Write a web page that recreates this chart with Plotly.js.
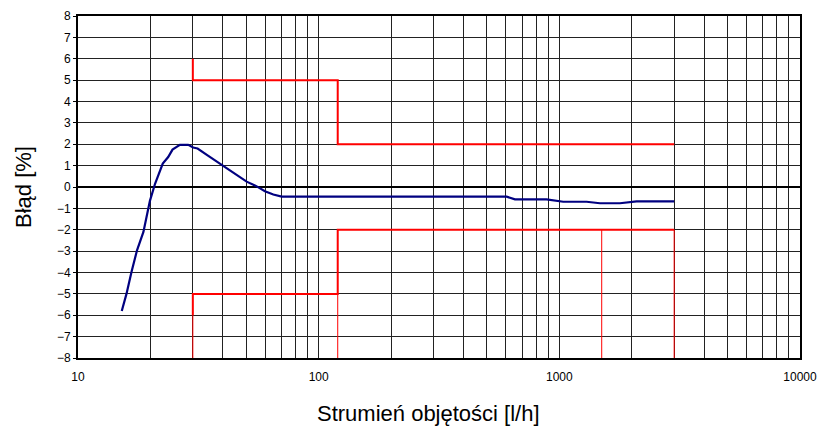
<!DOCTYPE html>
<html>
<head>
<meta charset="utf-8">
<script src="https://cdn.plot.ly/plotly-3.0.1.min.js"></script>
<style>html,body{margin:0;padding:0;background:#fff;}#chart{width:819px;height:432px;}</style>
</head>
<body>
<div id="chart"></div>
<script>
// Measured error curve
const flowX = [15.2, 15.9, 16.7, 17.6, 18.7, 19.6, 19.9, 20.9, 21.6, 22.5, 23.7, 24.7, 26.5, 28.7, 30.1, 31.4, 34.3, 37.7, 40.8, 45.6, 50.2, 55.3, 59.8, 64.8, 70.2, 604, 654, 885, 1038, 1298, 1475, 1786, 2094, 3000];
const errorY = [-5.8, -5.0, -3.95, -2.95, -2.1, -1.1, -0.65, 0.15, 0.55, 1.1, 1.4, 1.75, 1.97, 1.97, 1.85, 1.8, 1.5, 1.18, 0.95, 0.56, 0.25, 0.03, -0.2, -0.35, -0.45, -0.45, -0.58, -0.58, -0.69, -0.69, -0.76, -0.76, -0.67, -0.67];

// Upper limit (thick)
const upperX = [30, 30, 120, 120, 3000];
const upperY = [6, 5, 5, 2, 2];
// Lower limit (thick)
const lowerX = [30, 30, 120, 120, 3000];
const lowerY = [-6, -5, -5, -2, -2];
// Thin drop lines of lower limit
const dropX = [30, 30, null, 120, 120, null, 1500, 1500, null, 3000, 3000];
const dropY = [-6, -8, null, -5, -8, null, -2, -8, null, -2, -8];

// Axis ticks
const xTickVals = [10,20,30,40,50,60,70,80,90,100,200,300,400,500,600,700,800,900,1000,2000,3000,4000,5000,6000,7000,8000,9000,10000];
const xTickText = ['10','','','','','','','','','100','','','','','','','','','1000','','','','','','','','','10000'];
const yTickVals = [-8,-7,-6,-5,-4,-3,-2,-1,0,1,2,3,4,5,6,7,8];

const xTitle = 'Strumień objętości [l/h]';
const yTitle = 'Błąd [%]';

const traces = [
  {x: dropX, y: dropY, mode: 'lines', line: {color: '#ff0000', width: 1}, hoverinfo: 'skip', connectgaps: false},
  {x: upperX, y: upperY, mode: 'lines', line: {color: '#ff0000', width: 2}},
  {x: lowerX, y: lowerY, mode: 'lines', line: {color: '#ff0000', width: 2}},
  {x: flowX, y: errorY, mode: 'lines', line: {color: '#000080', width: 2.2}}
];

const fontFam = 'Arial, "Liberation Sans", sans-serif';
const layout = {
  width: 819, height: 432,
  margin: {l: 78, r: 19, t: 16, b: 74},
  paper_bgcolor: '#ffffff', plot_bgcolor: '#ffffff',
  showlegend: false,
  font: {family: fontFam, color: '#000', size: 12},
  xaxis: {
    type: 'log', range: [1, 4],
    tickmode: 'array', tickvals: xTickVals, ticktext: xTickText,
    showgrid: true, gridcolor: '#222222', gridwidth: 1,
    ticks: '', ticklabelstandoff: 7,
    tickfont: {family: fontFam, size: 12, color: '#000'},
    showline: true, linecolor: '#000', linewidth: 2, mirror: true,
    zeroline: false
  },
  yaxis: {
    range: [-8, 8],
    tickmode: 'array', tickvals: yTickVals,
    showgrid: true, gridcolor: '#222222', gridwidth: 1,
    ticks: 'outside', ticklen: 3, tickcolor: '#000', tickwidth: 1,
    tickfont: {family: fontFam, size: 12, color: '#000'},
    showline: true, linecolor: '#000', linewidth: 2, mirror: true,
    zeroline: true, zerolinecolor: '#000', zerolinewidth: 2
  },
  annotations: [
    {text: xTitle, xref: 'paper', yref: 'paper', x: 0.4848, y: -0.163, xanchor: 'center', yanchor: 'middle', showarrow: false, font: {family: fontFam, size: 22, color: '#000'}},
    {text: yTitle, xref: 'paper', yref: 'paper', x: -0.0762, y: 0.5, xanchor: 'center', yanchor: 'middle', textangle: -90, showarrow: false, font: {family: fontFam, size: 22, color: '#000'}}
  ]
};

Plotly.newPlot('chart', traces, layout, {staticPlot: true, displayModeBar: false});
</script>
</body>
</html>
